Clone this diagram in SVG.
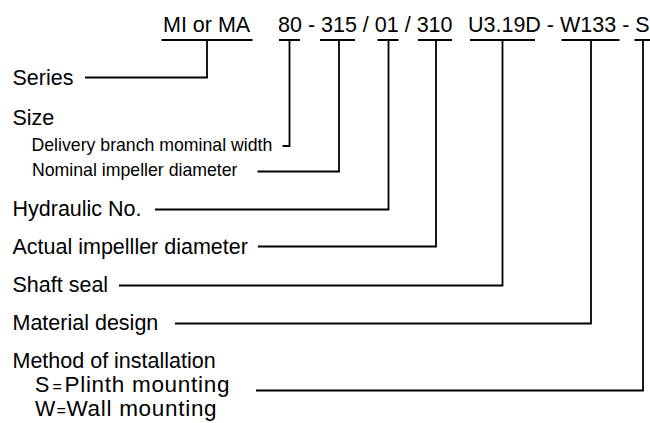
<svg xmlns="http://www.w3.org/2000/svg" width="650" height="423" viewBox="0 0 650 423">
<style>
text{font-family:"Liberation Sans",Arial,Helvetica,sans-serif;fill:#000}
.big{font-size:21.5px}
.wide{font-size:22.5px;letter-spacing:0.7px}
.small{font-size:17.7px}
.eq{font-size:16px}
.ln{fill:none;stroke:#000;stroke-width:1.8;stroke-linejoin:miter;stroke-linecap:butt}
</style>
<rect width="650" height="423" fill="#fff"/>
<g id="code">
<text class="big" x="163" y="32">MI or MA</text>
<text class="big" x="278" y="32">80 - 315 / 01 / 310</text>
<text class="big" x="468" y="32">U3.19D - W133 - S</text>
</g>
<g id="underlines">
<path class="ln" d="M161.5 40H252.5M279 40H300M320 40H355M377.5 40H398.5M418 40H452M470 40H535M561.5 40H619.5M634.5 40H650"/>
</g>
<g id="connectors">
<polyline class="ln" points="207,40 207,77.5 85,77.5"/>
<polyline class="ln" points="289.5,40 289.5,146 282.5,146"/>
<polyline class="ln" points="339,40 339,171.5 257.5,171.5"/>
<polyline class="ln" points="388.5,40 388.5,209.5 155,209.5"/>
<polyline class="ln" points="436,40 436,246.5 258,246.5"/>
<polyline class="ln" points="502.5,40 502.5,285.5 119,285.5"/>
<polyline class="ln" points="591,40 591,323.5 175,323.5"/>
<polyline class="ln" points="643,40 643,390.5 256,390.5"/>
</g>
<g id="series"><text class="big" x="12.5" y="84.5">Series</text></g>
<g id="size"><text class="big" x="12.5" y="125">Size</text></g>
<g id="delivery"><text class="small" x="31.5" y="151">Delivery branch mominal width</text></g>
<g id="nominal"><text class="small" x="32" y="176">Nominal impeller diameter</text></g>
<g id="hydraulic"><text class="big" x="12.5" y="215.5">Hydraulic No.</text></g>
<g id="actual"><text class="big" x="12.5" y="253.5">Actual impelller diameter</text></g>
<g id="shaft"><text class="big" x="12.5" y="292">Shaft seal</text></g>
<g id="material"><text class="big" x="12.5" y="330">Material design</text></g>
<g id="method">
<text class="big" x="12.5" y="367.5">Method of installation</text>
<text class="big" x="35" y="392">S</text><text class="eq" x="52.5" y="392">=</text><text class="wide" x="64.5" y="392">Plinth mounting</text>
<text class="big" x="35" y="415.5">W</text><text class="eq" x="56.5" y="415.5">=</text><text class="wide" x="66.5" y="415.5">Wall mounting</text>
</g>
</svg>
